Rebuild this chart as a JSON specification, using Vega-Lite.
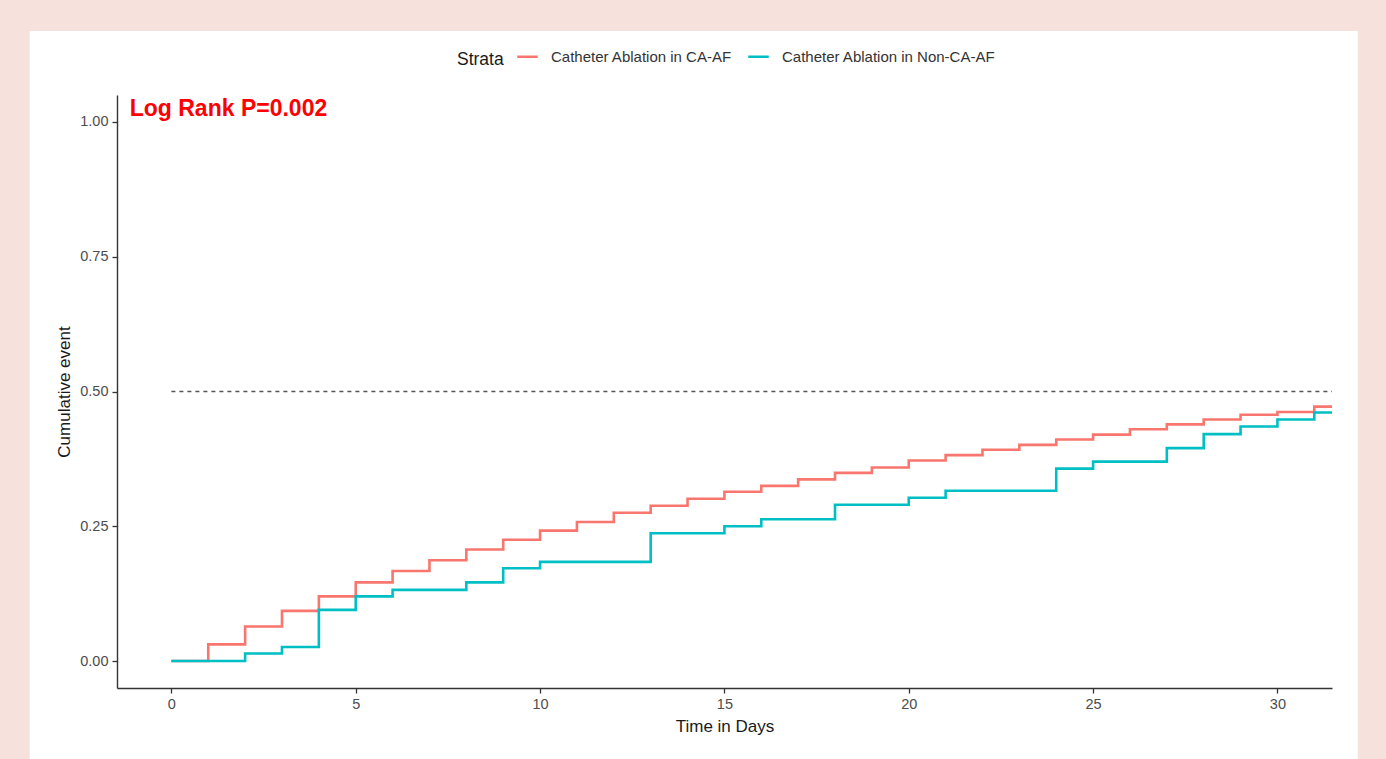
{
  "$schema": "https://vega.github.io/schema/vega-lite/v6.json",
  "autosize": {"type": "none"},
  "width": 1215,
  "height": 593,
  "padding": {"left": 117, "top": 95, "right": 54, "bottom": 71},
  "background": "#f6e1dc",
  "config": {
    "view": {"stroke": null},
    "font": "Liberation Sans",
    "axis": {
      "grid": false,
      "domainColor": "#333333",
      "domainWidth": 1.4,
      "tickColor": "#333333",
      "tickWidth": 1.3,
      "tickSize": 5,
      "labelColor": "#4d4d4d",
      "labelFont": "Liberation Sans",
      "labelFontSize": 14.5,
      "labelPadding": 4,
      "titleFont": "Liberation Sans",
      "titleFontSize": 17,
      "titleFontWeight": "normal",
      "titleColor": "#1a1a1a"
    },
    "legend": {
      "orient": "none",
      "legendX": 340,
      "legendY": -50,
      "direction": "horizontal",
      "titleOrient": "left",
      "titleBaseline": "line-top",
      "titleLineHeight": 10,
      "titleFont": "Liberation Sans",
      "titleFontSize": 17.5,
      "titleFontWeight": "normal",
      "titleColor": "#1a1a1a",
      "labelFont": "Liberation Sans",
      "labelFontSize": 15,
      "labelColor": "#333333",
      "labelLimit": 400,
      "symbolType": "stroke",
      "symbolSize": 420,
      "symbolStrokeWidth": 2.5,
      "labelOffset": 12,
      "columnPadding": 11,
      "titlePadding": 12,
      "padding": 0,
      "zindex": 1
    }
  },
  "layer": [
    {
      "data": {"values": [{}]},
      "mark": {"type": "rect", "color": "white", "clip": false},
      "encoding": {
        "x": {"datum": -3.843, "type": "quantitative", "scale": {"domain": [-1.475, 31.48], "nice": false, "zero": false}, "title": "Time in Days"},
        "x2": {"datum": 32.18},
        "y": {"datum": 1.1685, "type": "quantitative", "scale": {"domain": [-0.05, 1.05], "nice": false, "zero": false}, "title": "Cumulative event"},
        "y2": {"datum": -0.1815}
      }
    },
    {
      "data": {"values": [{}]},
      "mark": {"type": "rule", "color": "#555555", "strokeDash": [4, 4], "strokeWidth": 1.3},
      "encoding": {
        "x": {"datum": 0, "type": "quantitative", "title": "Time in Days"},
        "x2": {"datum": 31.48},
        "y": {"datum": 0.5, "type": "quantitative", "title": "Cumulative event"}
      }
    },
    {
      "data": {"values": [
        {"strata": "Catheter Ablation in CA-AF", "t": 0, "p": 0},
        {"strata": "Catheter Ablation in CA-AF", "t": 1, "p": 0.031},
        {"strata": "Catheter Ablation in CA-AF", "t": 2, "p": 0.064},
        {"strata": "Catheter Ablation in CA-AF", "t": 3, "p": 0.093},
        {"strata": "Catheter Ablation in CA-AF", "t": 4, "p": 0.12},
        {"strata": "Catheter Ablation in CA-AF", "t": 5, "p": 0.146},
        {"strata": "Catheter Ablation in CA-AF", "t": 6, "p": 0.167},
        {"strata": "Catheter Ablation in CA-AF", "t": 7, "p": 0.187},
        {"strata": "Catheter Ablation in CA-AF", "t": 8, "p": 0.207},
        {"strata": "Catheter Ablation in CA-AF", "t": 9, "p": 0.225},
        {"strata": "Catheter Ablation in CA-AF", "t": 10, "p": 0.242},
        {"strata": "Catheter Ablation in CA-AF", "t": 11, "p": 0.258},
        {"strata": "Catheter Ablation in CA-AF", "t": 12, "p": 0.275},
        {"strata": "Catheter Ablation in CA-AF", "t": 13, "p": 0.288},
        {"strata": "Catheter Ablation in CA-AF", "t": 14, "p": 0.301},
        {"strata": "Catheter Ablation in CA-AF", "t": 15, "p": 0.314},
        {"strata": "Catheter Ablation in CA-AF", "t": 16, "p": 0.325},
        {"strata": "Catheter Ablation in CA-AF", "t": 17, "p": 0.337},
        {"strata": "Catheter Ablation in CA-AF", "t": 18, "p": 0.349},
        {"strata": "Catheter Ablation in CA-AF", "t": 19, "p": 0.359},
        {"strata": "Catheter Ablation in CA-AF", "t": 20, "p": 0.372},
        {"strata": "Catheter Ablation in CA-AF", "t": 21, "p": 0.382},
        {"strata": "Catheter Ablation in CA-AF", "t": 22, "p": 0.392},
        {"strata": "Catheter Ablation in CA-AF", "t": 23, "p": 0.401},
        {"strata": "Catheter Ablation in CA-AF", "t": 24, "p": 0.411},
        {"strata": "Catheter Ablation in CA-AF", "t": 25, "p": 0.42},
        {"strata": "Catheter Ablation in CA-AF", "t": 26, "p": 0.43},
        {"strata": "Catheter Ablation in CA-AF", "t": 27, "p": 0.439},
        {"strata": "Catheter Ablation in CA-AF", "t": 28, "p": 0.448},
        {"strata": "Catheter Ablation in CA-AF", "t": 29, "p": 0.457},
        {"strata": "Catheter Ablation in CA-AF", "t": 30, "p": 0.462},
        {"strata": "Catheter Ablation in CA-AF", "t": 31, "p": 0.472},
        {"strata": "Catheter Ablation in CA-AF", "t": 31.48, "p": 0.472},
        {"strata": "Catheter Ablation in Non-CA-AF", "t": 0, "p": 0},
        {"strata": "Catheter Ablation in Non-CA-AF", "t": 2, "p": 0.014},
        {"strata": "Catheter Ablation in Non-CA-AF", "t": 3, "p": 0.026},
        {"strata": "Catheter Ablation in Non-CA-AF", "t": 4, "p": 0.095},
        {"strata": "Catheter Ablation in Non-CA-AF", "t": 5, "p": 0.12},
        {"strata": "Catheter Ablation in Non-CA-AF", "t": 6, "p": 0.132},
        {"strata": "Catheter Ablation in Non-CA-AF", "t": 8, "p": 0.146},
        {"strata": "Catheter Ablation in Non-CA-AF", "t": 9, "p": 0.172},
        {"strata": "Catheter Ablation in Non-CA-AF", "t": 10, "p": 0.184},
        {"strata": "Catheter Ablation in Non-CA-AF", "t": 13, "p": 0.237},
        {"strata": "Catheter Ablation in Non-CA-AF", "t": 15, "p": 0.25},
        {"strata": "Catheter Ablation in Non-CA-AF", "t": 16, "p": 0.263},
        {"strata": "Catheter Ablation in Non-CA-AF", "t": 18, "p": 0.29},
        {"strata": "Catheter Ablation in Non-CA-AF", "t": 20, "p": 0.303},
        {"strata": "Catheter Ablation in Non-CA-AF", "t": 21, "p": 0.316},
        {"strata": "Catheter Ablation in Non-CA-AF", "t": 24, "p": 0.357},
        {"strata": "Catheter Ablation in Non-CA-AF", "t": 25, "p": 0.37},
        {"strata": "Catheter Ablation in Non-CA-AF", "t": 27, "p": 0.395},
        {"strata": "Catheter Ablation in Non-CA-AF", "t": 28, "p": 0.421},
        {"strata": "Catheter Ablation in Non-CA-AF", "t": 29, "p": 0.435},
        {"strata": "Catheter Ablation in Non-CA-AF", "t": 30, "p": 0.448},
        {"strata": "Catheter Ablation in Non-CA-AF", "t": 31, "p": 0.461},
        {"strata": "Catheter Ablation in Non-CA-AF", "t": 31.48, "p": 0.461}
      ]},
      "mark": {"type": "line", "interpolate": "step-after", "strokeWidth": 2.6},
      "encoding": {
        "x": {"field": "t", "type": "quantitative", "title": "Time in Days",
              "axis": {"values": [0, 5, 10, 15, 20, 25, 30], "titlePadding": 8, "zindex": 2}},
        "y": {"field": "p", "type": "quantitative", "title": "Cumulative event",
              "axis": {"values": [0, 0.25, 0.5, 0.75, 1], "format": ".2f", "titlePadding": 6, "zindex": 2}},
        "color": {"field": "strata", "type": "nominal", "title": "Strata",
                  "scale": {"domain": ["Catheter Ablation in CA-AF", "Catheter Ablation in Non-CA-AF"], "range": ["#F8766D", "#00BFC4"]}}
      }
    },
    {
      "data": {"values": [{}]},
      "mark": {"type": "text", "text": "Log Rank P=0.002", "color": "#ff0000", "fontSize": 23, "fontWeight": "bold", "font": "Liberation Sans", "align": "left", "baseline": "alphabetic"},
      "encoding": {
        "x": {"datum": -1.13, "type": "quantitative", "title": "Time in Days"},
        "y": {"datum": 1.011, "type": "quantitative", "title": "Cumulative event"}
      }
    }
  ]
}
